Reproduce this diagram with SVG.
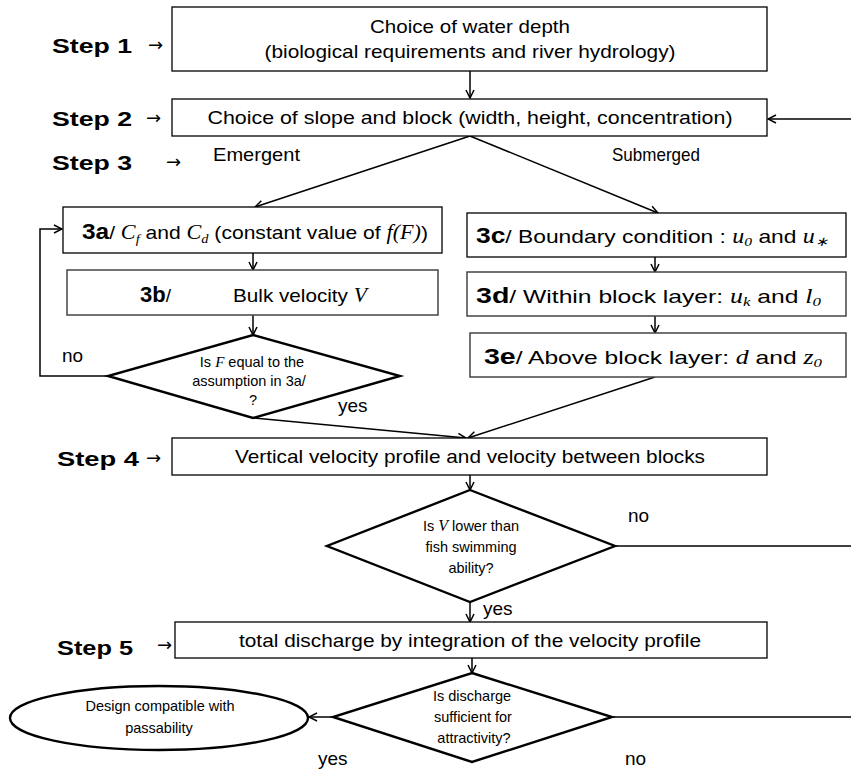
<svg xmlns="http://www.w3.org/2000/svg" width="851" height="771" viewBox="0 0 851 771">
<style>
.box{fill:#fff;stroke:#000;stroke-width:1.3}
.gbox{fill:#fff;stroke:#444;stroke-width:1.5}
.dia{fill:#fff;stroke:#000;stroke-width:2.4}
.t{font-family:"Liberation Sans",Arial,sans-serif;font-size:19px;fill:#000}
.s{font-family:"Liberation Sans",Arial,sans-serif;font-size:14.5px;fill:#000}
.step{font-family:"Liberation Sans",Arial,sans-serif;font-size:21px;font-weight:bold;fill:#000}
.ar{font-family:"DejaVu Sans",sans-serif;font-size:18px;fill:#000}
.b{font-weight:bold;font-size:22px}
.m{font-family:"Liberation Serif","Times New Roman",serif;font-style:italic}
.ln{fill:none;stroke:#000;stroke-width:1.5}
</style>
<defs>
<marker id="ah" viewBox="0 0 10 10" refX="9" refY="5" markerWidth="10" markerHeight="10" markerUnits="userSpaceOnUse" orient="auto">
<path d="M1,1 L9,5 L1,9" fill="none" stroke="#000" stroke-width="1.5"/>
</marker>
</defs>

<g id="connectors">
<line class="ln" x1="470" y1="71" x2="470" y2="98" marker-end="url(#ah)"/>
<line class="ln" x1="851" y1="119" x2="768" y2="119" marker-end="url(#ah)"/>
<line class="ln" x1="470" y1="136" x2="255" y2="207" marker-end="url(#ah)"/>
<line class="ln" x1="470" y1="136" x2="658" y2="213" marker-end="url(#ah)"/>
<line class="ln" x1="253" y1="253" x2="253" y2="270" marker-end="url(#ah)"/>
<line class="ln" x1="253" y1="315" x2="253" y2="335" marker-end="url(#ah)"/>
<polyline class="ln" points="108,376 40,376 40,229 62,229" marker-end="url(#ah)"/>
<line class="ln" x1="253" y1="418" x2="466" y2="438" marker-end="url(#ah)"/>
<line class="ln" x1="655" y1="257" x2="655" y2="272" marker-end="url(#ah)"/>
<line class="ln" x1="655" y1="316" x2="655" y2="333" marker-end="url(#ah)"/>
<line class="ln" x1="655" y1="377" x2="468" y2="438" marker-end="url(#ah)"/>
<line class="ln" x1="470" y1="475" x2="470" y2="490" marker-end="url(#ah)"/>
<line class="ln" x1="615" y1="546" x2="851" y2="546"/>
<line class="ln" x1="470" y1="602" x2="470" y2="622" marker-end="url(#ah)"/>
<line class="ln" x1="472" y1="658" x2="472" y2="673" marker-end="url(#ah)"/>
<line class="ln" x1="612" y1="717" x2="851" y2="717" stroke="#333"/>
<line class="ln" x1="333" y1="717" x2="309" y2="717" marker-end="url(#ah)"/>
</g>

<g id="step1">
<rect class="box" x="172" y="7" width="595" height="64"/>
<text class="t" x="470" y="33" font-size="20" text-anchor="middle" textLength="200" lengthAdjust="spacingAndGlyphs">Choice of water depth</text>
<text class="t" x="470" y="58" font-size="20" text-anchor="middle" textLength="411" lengthAdjust="spacingAndGlyphs">(biological requirements and river hydrology)</text>
</g>

<g id="step2">
<rect class="box" x="172" y="99" width="595" height="37"/>
<text class="t" x="470" y="124" font-size="20" text-anchor="middle" textLength="525" lengthAdjust="spacingAndGlyphs">Choice of slope and block (width, height, concentration)</text>
</g>

<g id="n3a">
<rect class="box" x="63" y="207" width="379" height="46"/>
<text class="t" x="82" y="239" textLength="346" lengthAdjust="spacingAndGlyphs"><tspan class="b">3a</tspan>/ <tspan class="m" font-size="20">C<tspan font-size="13" dy="4">f</tspan></tspan><tspan dy="-4"> and </tspan><tspan class="m" font-size="20">C<tspan font-size="13" dy="4">d</tspan></tspan><tspan dy="-4"> (constant value of </tspan><tspan class="m" font-size="20">f(F)</tspan>)</text>
</g>

<g id="n3b">
<rect class="gbox" x="67" y="270" width="371" height="45"/>
<text class="t" x="140" y="302"><tspan class="b">3b</tspan>/</text>
<text class="t" x="233" y="302" textLength="134" lengthAdjust="spacingAndGlyphs">Bulk velocity <tspan class="m" font-size="20">V</tspan></text>
</g>

<g id="d1">
<polygon class="dia" points="253,335 400,376 253,418 108,376"/>
<text class="s" x="252" y="367" text-anchor="middle">Is <tspan class="m" font-size="15">F</tspan> equal to the</text>
<text class="s" x="249" y="386" text-anchor="middle">assumption in 3a/</text>
<text class="s" x="253" y="405" text-anchor="middle">?</text>
</g>

<g id="n3c">
<rect class="box" x="467" y="213" width="379" height="44"/>
<text class="t" x="476" y="243" font-size="20" textLength="352" lengthAdjust="spacingAndGlyphs"><tspan class="b">3c</tspan>/ Boundary condition :  <tspan class="m" font-size="20">u<tspan font-size="13" dy="3">0</tspan></tspan><tspan dy="-3">  and </tspan><tspan class="m" font-size="20">u<tspan font-size="13" dy="3">∗</tspan></tspan></text>
</g>

<g id="n3d">
<rect class="gbox" x="467" y="272" width="379" height="44"/>
<text class="t" x="476" y="303" font-size="20" textLength="345" lengthAdjust="spacingAndGlyphs"><tspan class="b">3d</tspan>/ Within block layer:  <tspan class="m" font-size="20">u<tspan font-size="13" dy="3">k</tspan></tspan><tspan dy="-3">  and </tspan><tspan class="m" font-size="20">l<tspan font-size="13" dy="3">0</tspan></tspan></text>
</g>

<g id="n3e">
<rect class="gbox" x="470" y="333" width="376" height="44"/>
<text class="t" x="484" y="364" font-size="20" textLength="338" lengthAdjust="spacingAndGlyphs"><tspan class="b">3e</tspan>/ Above block layer: <tspan class="m" font-size="20">d</tspan>  and <tspan class="m" font-size="20">z<tspan font-size="13" dy="3">0</tspan></tspan></text>
</g>

<g id="step4">
<rect class="box" x="172" y="438" width="595" height="37"/>
<text class="t" x="470" y="463" font-size="20" text-anchor="middle" textLength="470" lengthAdjust="spacingAndGlyphs">Vertical velocity profile and velocity between blocks</text>
</g>

<g id="d2">
<polygon class="dia" points="470,490 615,546 470,602 327,546"/>
<text class="s" x="471" y="531" font-size="15" text-anchor="middle">Is <tspan class="m" font-size="16">V</tspan> lower than</text>
<text class="s" x="471" y="552" font-size="15" text-anchor="middle">fish swimming</text>
<text class="s" x="471" y="573" font-size="15" text-anchor="middle">ability?</text>
</g>

<g id="step5">
<rect class="box" x="175" y="622" width="592" height="36"/>
<text class="t" x="470" y="647" font-size="20" text-anchor="middle" textLength="462" lengthAdjust="spacingAndGlyphs">total discharge by integration of the velocity profile</text>
</g>

<g id="d3">
<polygon class="dia" points="472,673 612,717 472,762 333,717"/>
<text class="s" x="472" y="701" text-anchor="middle">Is discharge</text>
<text class="s" x="473" y="722" text-anchor="middle">sufficient for</text>
<text class="s" x="474" y="743" text-anchor="middle">attractivity?</text>
</g>

<g id="end">
<ellipse class="dia" cx="159" cy="718" rx="149" ry="32"/>
<text class="s" x="160" y="711" text-anchor="middle">Design compatible  with</text>
<text class="s" x="159" y="733" text-anchor="middle">passability</text>
</g>

<g id="labels">
<text class="step" x="52" y="53" textLength="80" lengthAdjust="spacingAndGlyphs">Step 1</text>
<text class="ar" x="148" y="51">→</text>
<text class="step" x="52" y="126" textLength="80" lengthAdjust="spacingAndGlyphs">Step 2</text>
<text class="ar" x="146" y="124">→</text>
<text class="step" x="52" y="170" textLength="80" lengthAdjust="spacingAndGlyphs">Step 3</text>
<text class="ar" x="166" y="168">→</text>
<text class="step" x="57" y="466" textLength="82" lengthAdjust="spacingAndGlyphs">Step  4</text>
<text class="ar" x="146" y="464">→</text>
<text class="step" x="57" y="655" textLength="76" lengthAdjust="spacingAndGlyphs">Step 5</text>
<text class="ar" x="157" y="651">→</text>
<text class="t" x="213" y="161" font-size="18" textLength="87" lengthAdjust="spacingAndGlyphs">Emergent</text>
<text class="t" x="612" y="161" font-size="18" textLength="88" lengthAdjust="spacingAndGlyphs">Submerged</text>
<text class="t" x="62" y="362" font-size="18">no</text>
<text class="t" x="338" y="412" font-size="18">yes</text>
<text class="t" x="628" y="522" font-size="18">no</text>
<text class="t" x="483" y="615" font-size="18">yes</text>
<text class="t" x="318" y="765" font-size="18">yes</text>
<text class="t" x="625" y="765" font-size="18">no</text>
</g>
</svg>
